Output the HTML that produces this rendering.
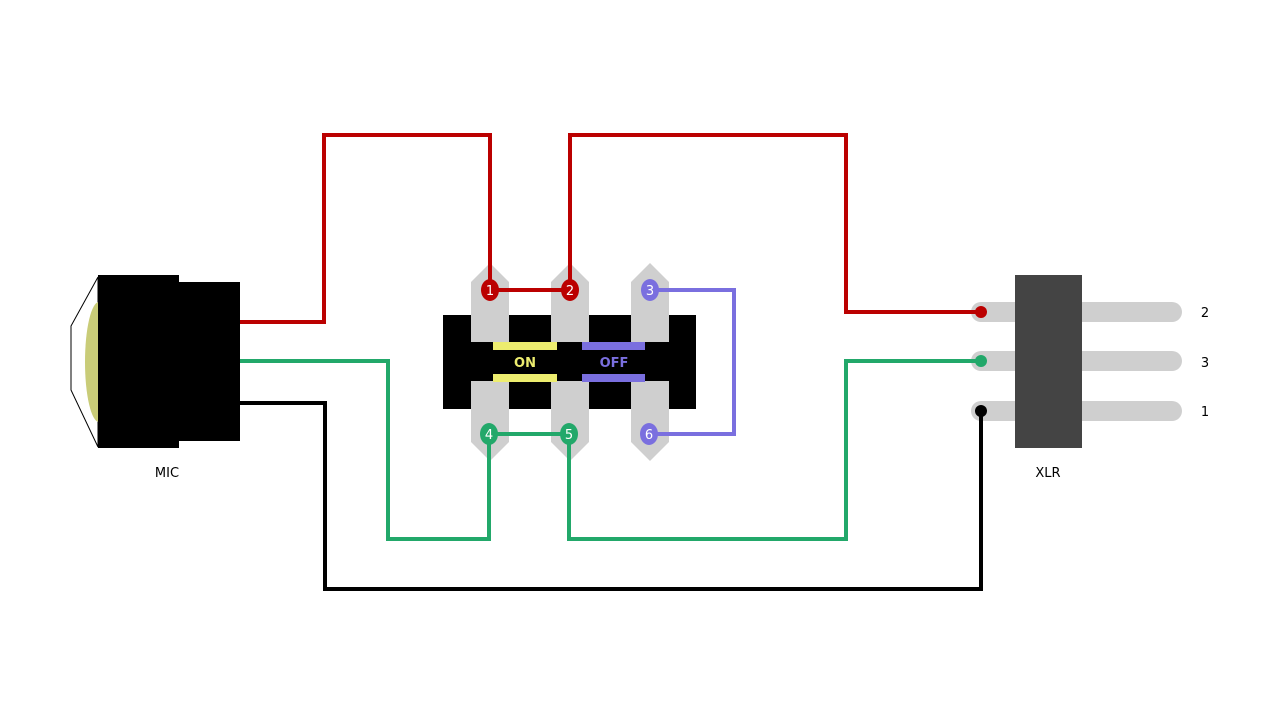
<!DOCTYPE html>
<html><head><meta charset="utf-8"><style>html,body{margin:0;padding:0;background:#fff}svg{display:block}</style></head>
<body>
<svg width="1280" height="720" viewBox="0 0 1280 720" xmlns="http://www.w3.org/2000/svg" font-family="DejaVu Sans, Liberation Sans, sans-serif">
<!-- Mic -->
<polygon points="98,277 71,326 71,390 98,447" fill="#fff" stroke="#000" stroke-width="1"/>
<ellipse cx="99" cy="362" rx="14" ry="60" fill="#c9cc78"/>
<rect x="98" y="275" width="81" height="173" fill="#000"/>
<rect x="179" y="282" width="61" height="159" fill="#000"/>
<text x="167" y="477" font-size="13" text-anchor="middle">MIC</text>
<!-- Switch -->
<rect x="443" y="315" width="253" height="94" fill="#000"/>
<g fill="#cfcfcf">
<polygon points="490,263 509,282 509,342 471,342 471,282"/>
<polygon points="570,263 589,282 589,342 551,342 551,282"/>
<polygon points="650,263 669,282 669,342 631,342 631,282"/>
<polygon points="490,461 509,442 509,381 471,381 471,442"/>
<polygon points="570,461 589,442 589,381 551,381 551,442"/>
<polygon points="650,461 669,442 669,381 631,381 631,442"/>
</g>
<rect x="493" y="342" width="64" height="8" fill="#eded6f"/>
<rect x="493" y="374" width="64" height="8" fill="#eded6f"/>
<rect x="582" y="342" width="63" height="8" fill="#7a6fdf"/>
<rect x="582" y="374" width="63" height="8" fill="#7a6fdf"/>
<text x="525" y="367" font-size="13" font-weight="bold" fill="#eded6f" text-anchor="middle">ON</text>
<text x="614" y="367" font-size="13" font-weight="bold" fill="#7a6fdf" text-anchor="middle">OFF</text>
<!-- XLR -->
<g stroke="#cfcfcf" stroke-width="20" stroke-linecap="round">
<line x1="981" y1="312" x2="1172" y2="312"/>
<line x1="981" y1="361" x2="1172" y2="361"/>
<line x1="981" y1="411" x2="1172" y2="411"/>
</g>
<rect x="1015" y="275" width="67" height="173" fill="#444"/>
<text x="1205" y="317" font-size="13" text-anchor="middle">2</text>
<text x="1205" y="367" font-size="13" text-anchor="middle">3</text>
<text x="1205" y="416" font-size="13" text-anchor="middle">1</text>
<text x="1048" y="477" font-size="13" text-anchor="middle">XLR</text>
<!-- Wires -->
<g fill="none" stroke-width="4">
<polyline stroke="#bb0000" points="240,322 324,322 324,135 490,135 490,290 570,290"/>
<polyline stroke="#bb0000" points="570,290 570,135 846,135 846,312 981,312"/>
<polyline stroke="#22a86a" points="240,361 388,361 388,539 489,539 489,434 569,434"/>
<polyline stroke="#22a86a" points="569,434 569,539 846,539 846,361 981,361"/>
<polyline stroke="#000" points="240,403 325,403 325,589 981,589 981,411"/>
<polyline stroke="#7a6fdf" points="650,290 734,290 734,434 650,434"/>
</g>
<circle cx="981" cy="312" r="6" fill="#bb0000"/>
<circle cx="981" cy="361" r="6" fill="#22a86a"/>
<circle cx="981" cy="411" r="6" fill="#000"/>
<!-- Pin dots -->
<g font-size="13" fill="#fff" text-anchor="middle">
<ellipse cx="490" cy="290" rx="9" ry="11" fill="#bb0000"/><text x="490" y="295">1</text>
<ellipse cx="570" cy="290" rx="9" ry="11" fill="#bb0000"/><text x="570" y="295">2</text>
<ellipse cx="650" cy="290" rx="9" ry="11" fill="#7a6fdf"/><text x="650" y="295">3</text>
<ellipse cx="489" cy="434" rx="9" ry="11" fill="#22a86a"/><text x="489" y="439">4</text>
<ellipse cx="569" cy="434" rx="9" ry="11" fill="#22a86a"/><text x="569" y="439">5</text>
<ellipse cx="649" cy="434" rx="9" ry="11" fill="#7a6fdf"/><text x="649" y="439">6</text>
</g>
</svg>
</body></html>
